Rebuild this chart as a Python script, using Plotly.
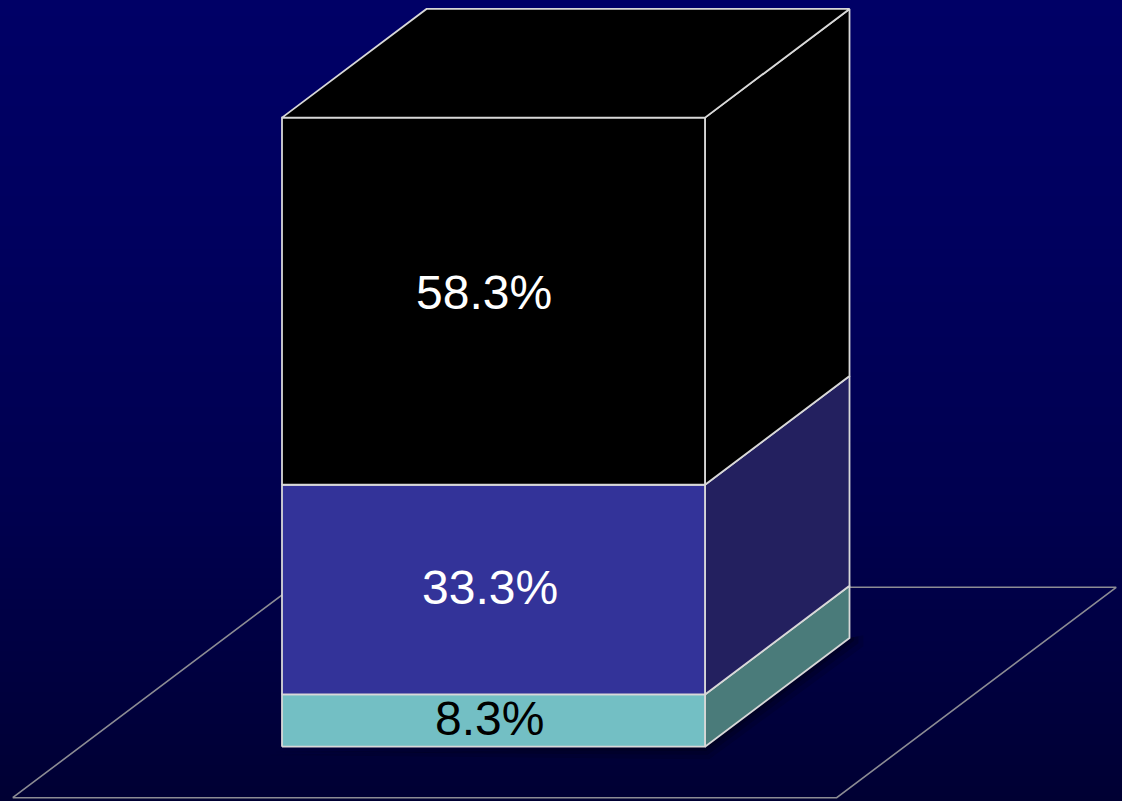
import plotly.graph_objects as go
import numpy as np

# ---- data ----
categories = ["Segment A", "Segment B", "Segment C"]
values = [8.3, 33.3, 58.3]
labels = ["8.3%", "33.3%", "58.3%"]
front_colors = ["#73BFC4", "#333399", "#000000"]
side_colors = ["#4A7B7A", "#23205F", "#000000"]
label_colors = ["#000000", "#FFFFFF", "#FFFFFF"]

# ---- geometry / style (in axis units, 1 unit = 1% of bar height) ----
W, H = 1122, 801
S = 6.297                      # px per unit
Y0_PX = 746.7                  # pixel row of value 0
BAR_LEFT = 282 / S
BAR_W = 423 / S
DX, DY = 144.5 / S, 108.7 / S  # oblique depth offset
FLOOR_FRONT_Y = -(797.7 - Y0_PX) / S
FLOOR_BACK_Y = (Y0_PX - 587.3) / S
FLOOR_LEFT = 12.7 / S
FLOOR_RIGHT = 836.7 / S
FLOOR_DX = 279.5 / S
EDGE = "#D8D8D8"

x_range = [0, W / S]
y_range = [-(H - Y0_PX) / S, Y0_PX / S]

fig = go.Figure()

# background gradient
gy = np.linspace(y_range[0], y_range[1], 60)
fig.add_trace(go.Heatmap(
    x=x_range, y=gy, z=[[v, v] for v in gy],
    colorscale=[[0, "#000033"], [0.35, "#00004E"], [0.7, "#00005E"], [1, "#000066"]],
    zsmooth="best", showscale=False, hoverinfo="skip"))

# floor
fx = [FLOOR_LEFT, FLOOR_RIGHT, FLOOR_RIGHT + FLOOR_DX, FLOOR_LEFT + FLOOR_DX, FLOOR_LEFT]
fy = [FLOOR_FRONT_Y, FLOOR_FRONT_Y, FLOOR_BACK_Y, FLOOR_BACK_Y, FLOOR_FRONT_Y]
fig.add_trace(go.Scatter(x=fx, y=fy, mode="lines",
                         line=dict(color="#8C8C94", width=1.6), hoverinfo="skip"))

# soft shadow
xl, xr = BAR_LEFT, BAR_LEFT + BAR_W
for k, a in [(2.2, 0.12), (1.4, 0.18), (0.7, 0.25)]:
    sx = [xl - k, xr + k * 0.3, xr + DX + k, xr + DX + k, xr + DX, xr, xl - k]
    sy = [-k * 0.6, -k * 0.9, DY - k * 0.6, DY + k * 0.2, DY, 0, -k * 0.6]
    fig.add_trace(go.Scatter(x=sx, y=sy, fill="toself", mode="none",
                             fillcolor=f"rgba(0,0,10,{a})", hoverinfo="skip"))

# bar segments
base = 0.0
for cat, v, fc, sc in zip(categories, values, front_colors, side_colors):
    y1, y2 = base, base + v
    # side face
    fig.add_trace(go.Scatter(
        x=[xr, xr + DX, xr + DX, xr, xr], y=[y1, y1 + DY, y2 + DY, y2, y1],
        fill="toself", fillcolor=sc, mode="lines",
        line=dict(color=EDGE, width=1.8), name=cat, hoverinfo="skip"))
    # front face
    fig.add_trace(go.Scatter(
        x=[xl, xr, xr, xl, xl], y=[y1, y1, y2, y2, y1],
        fill="toself", fillcolor=fc, mode="lines",
        line=dict(color=EDGE, width=1.8), name=cat, hoverinfo="skip"))
    base = y2

# top face
top = base
fig.add_trace(go.Scatter(
    x=[xl, xr, xr + DX, xl + DX, xl], y=[top, top, top + DY, top + DY, top],
    fill="toself", fillcolor=front_colors[-1], mode="lines",
    line=dict(color=EDGE, width=1.8), hoverinfo="skip"))

# labels
base = 0.0
shifts = [-4, -4, -10]
yshifts = [2, 2, 9]
for v, lab, lc, xs, ys in zip(values, labels, label_colors, shifts, yshifts):
    fig.add_annotation(x=xl + BAR_W / 2, y=base + v / 2, text=lab, showarrow=False,
                       xshift=xs, yshift=ys,
                       font=dict(family="Liberation Sans, Arial", size=48, color=lc))
    base += v

fig.update_layout(
    width=W, height=H, margin=dict(l=0, r=0, t=0, b=0),
    paper_bgcolor="#000055", plot_bgcolor="#000055", showlegend=False,
    xaxis=dict(range=x_range, visible=False, fixedrange=True),
    yaxis=dict(range=y_range, visible=False, fixedrange=True),
)

fig.write_html("out.html", config={"displayModeBar": False},
               post_script="document.body.style.margin='0';"
                           "document.body.style.background='#000033';"
                           "document.body.style.overflow='hidden';")
